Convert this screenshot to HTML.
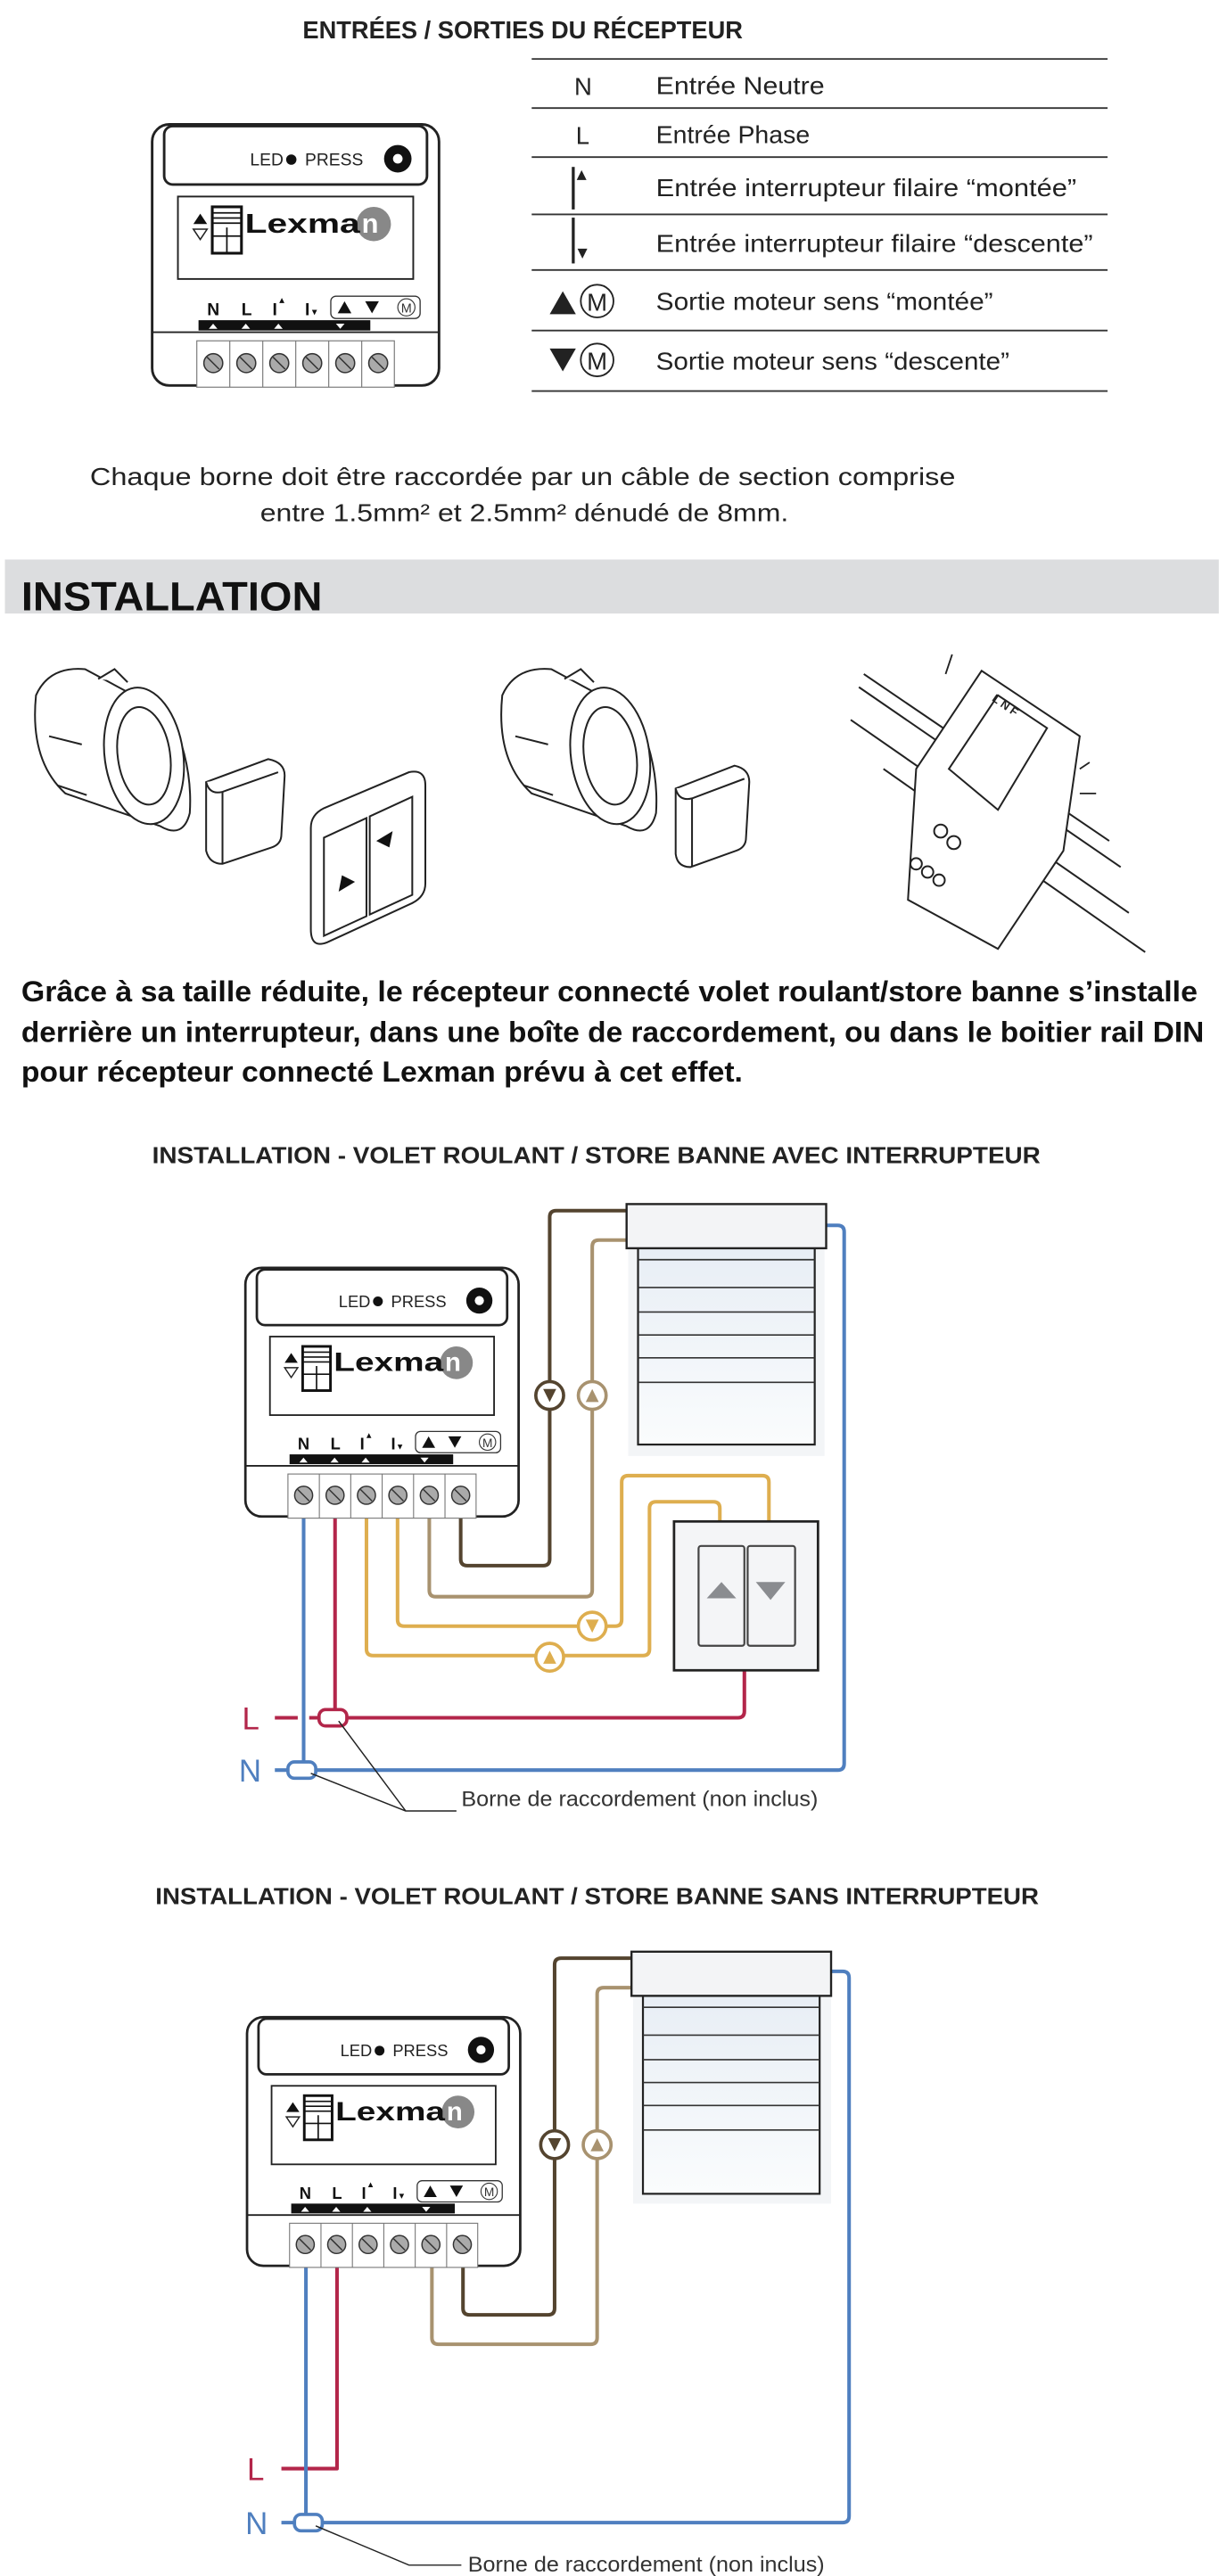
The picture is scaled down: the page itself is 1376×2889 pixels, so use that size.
<!DOCTYPE html>
<html><head><meta charset="utf-8"><style>
html,body{margin:0;padding:0;background:#fff;}
svg{display:block;font-family:"Liberation Sans",sans-serif;}
</style></head><body>
<svg width="1376" height="2889" viewBox="0 0 750 1574.6" xmlns="http://www.w3.org/2000/svg">
<rect width="750" height="1575" fill="#fff"/>

<!-- ===== TOP SECTION ===== -->
<text x="185" y="23.5" font-size="15" font-weight="bold" fill="#222" textLength="269" lengthAdjust="spacingAndGlyphs">ENTRÉES / SORTIES DU RÉCEPTEUR</text>

<g stroke="#333" stroke-width="1">
<line x1="325" y1="36" x2="677" y2="36"/><line x1="325" y1="66" x2="677" y2="66"/>
<line x1="325" y1="96" x2="677" y2="96"/><line x1="325" y1="131" x2="677" y2="131"/>
<line x1="325" y1="165" x2="677" y2="165"/><line x1="325" y1="202" x2="677" y2="202"/>
<line x1="325" y1="239" x2="677" y2="239"/>
</g>
<g font-size="15" fill="#222">
<text x="351" y="58">N</text><text x="352" y="88">L</text>
<text x="401" y="57.5" textLength="103" lengthAdjust="spacingAndGlyphs">Entrée Neutre</text>
<text x="401" y="87.5" textLength="94" lengthAdjust="spacingAndGlyphs">Entrée Phase</text>
<text x="401" y="120" textLength="257" lengthAdjust="spacingAndGlyphs">Entrée interrupteur filaire “montée”</text>
<text x="401" y="154" textLength="267" lengthAdjust="spacingAndGlyphs">Entrée interrupteur filaire “descente”</text>
<text x="401" y="189.5" textLength="206" lengthAdjust="spacingAndGlyphs">Sortie moteur sens “montée”</text>
<text x="401" y="226" textLength="216" lengthAdjust="spacingAndGlyphs">Sortie moteur sens “descente”</text>
</g>
<rect x="349.5" y="102" width="1.8" height="26" fill="#222"/><path d="M352.5 110 l3 -6 l3 6z" fill="#222"/>
<rect x="349.5" y="133" width="1.8" height="28" fill="#222"/><path d="M353 152 l3 6 l3 -6z" fill="#222"/>
<path d="M336 192 l8 -14 l8 14z" fill="#222"/><circle cx="365" cy="184" r="10" fill="none" stroke="#222" stroke-width="1"/><text x="365" y="190" font-size="15" text-anchor="middle" fill="#222">M</text>
<path d="M336 213 l8 14 l8 -14z" fill="#222"/><circle cx="365" cy="220" r="10" fill="none" stroke="#222" stroke-width="1"/><text x="365" y="226" font-size="15" text-anchor="middle" fill="#222">M</text>

<!-- top device -->
<g transform="translate(93,76) scale(1.05)">
<rect x="0" y="0" width="167" height="152" rx="10" fill="#fff" stroke="#222" stroke-width="1.5"/>
<rect x="7" y="1" width="153" height="34" rx="5" fill="#fff" stroke="#222" stroke-width="1.5"/>
<text x="57" y="24" font-size="10" fill="#222">LED</text><circle cx="81" cy="20.5" r="3" fill="#111"/>
<text x="89" y="24" font-size="10" fill="#222">PRESS</text>
<circle cx="143" cy="20" r="8" fill="#111"/><circle cx="143" cy="20" r="2.8" fill="#fff"/>
<rect x="15" y="42" width="137" height="48" fill="none" stroke="#222" stroke-width="1"/>
<path d="M24 58 l4 -6 l4 6z" fill="#111"/><path d="M24 61 l4 6 l4 -6z" fill="none" stroke="#222" stroke-width="0.8"/>
<rect x="35" y="48" width="17" height="27" fill="none" stroke="#111" stroke-width="1.6"/>
<path d="M35 51.5h17M35 54.5h17M35 57.5h17M35 65h17M43.5 60v15" stroke="#111" stroke-width="0.9"/>
<circle cx="129" cy="58" r="10" fill="#888"/>
<text x="54" y="63" font-size="16" font-weight="bold" fill="#111" textLength="67" lengthAdjust="spacingAndGlyphs">Lexma</text>
<text x="122" y="63" font-size="16" font-weight="bold" fill="#fff">n</text>
<g font-size="10" font-weight="bold" fill="#111">
<text x="32" y="111">N</text><text x="52" y="111">L</text><text x="70" y="111">I</text><text x="89" y="111">I</text>
</g>
<path d="M74 104 l1.5 -3 l1.5 3z M93 108 l1.5 3 l1.5 -3z" fill="#111"/>
<rect x="104" y="100" width="52" height="13" rx="3" fill="#fff" stroke="#333" stroke-width="0.7"/>
<path d="M108 110 l4 -7 l4 7z M124 103 l4 7 l4 -7z" fill="#111"/>
<circle cx="148" cy="106.5" r="5" fill="none" stroke="#333" stroke-width="0.6"/><text x="148" y="109.5" font-size="7.5" text-anchor="middle" fill="#333">M</text>
<rect x="27" y="114" width="100" height="6" fill="#111"/>
<path d="M33 119 l2.5 -3 l2.5 3z M52 119 l2.5 -3 l2.5 3z M71 119 l2.5 -3 l2.5 3z M107 116 l2.5 3 l2.5 -3z" fill="#fff"/>
<line x1="0" y1="121" x2="167" y2="121" stroke="#222" stroke-width="1"/>
<rect x="26" y="126" width="115" height="27" fill="#fff" stroke="#777" stroke-width="0.6"/>
<g stroke="#777" stroke-width="0.6"><line x1="45.2" y1="126" x2="45.2" y2="153"/><line x1="64.4" y1="126" x2="64.4" y2="153"/><line x1="83.6" y1="126" x2="83.6" y2="153"/><line x1="102.8" y1="126" x2="102.8" y2="153"/><line x1="122" y1="126" x2="122" y2="153"/></g>
<g fill="#aaa" stroke="#333" stroke-width="0.8"><circle cx="35.6" cy="139" r="5.5"/><circle cx="54.8" cy="139" r="5.5"/><circle cx="74" cy="139" r="5.5"/><circle cx="93.2" cy="139" r="5.5"/><circle cx="112.4" cy="139" r="5.5"/><circle cx="131.6" cy="139" r="5.5"/></g>
<g stroke="#333" stroke-width="0.8"><path d="M32 135.5l7 7M51.2 135.5l7 7M70.4 135.5l7 7M89.6 135.5l7 7M108.8 135.5l7 7M128 135.5l7 7"/></g>
</g>

<text x="55" y="296.5" font-size="15" fill="#222" textLength="529" lengthAdjust="spacingAndGlyphs">Chaque borne doit être raccordée par un câble de section comprise</text>
<text x="159" y="318.5" font-size="15" fill="#222" textLength="323" lengthAdjust="spacingAndGlyphs">entre 1.5mm² et 2.5mm² dénudé de 8mm.</text>

<rect x="3" y="342" width="742" height="33" fill="#dcdddf"/>
<text x="13" y="373" font-size="25" font-weight="bold" fill="#111" textLength="184" lengthAdjust="spacingAndGlyphs">INSTALLATION</text>

<!-- ===== ILLUSTRATIONS ===== -->
<g fill="#fff" stroke="#222" stroke-width="1.1">
<!-- box 1 -->
<path d="M22 425 q8 -18 30 -16 l52 28 q14 30 12 60 q-4 16 -18 8 l-58 -20 q-22 -20 -18 -60z"/>
<ellipse cx="88" cy="462" rx="24" ry="42" transform="rotate(-8 88 462)"/>
<ellipse cx="88" cy="462" rx="16" ry="30" transform="rotate(-8 88 462)"/>
<path d="M60 415 l10 -6 l8 8 M30 450 l20 5 M35 480 l18 6"/>
<!-- module 1 -->
<path d="M126 478 l38 -14 q10 2 10 10 l-2 36 q0 6 -6 8 l-30 10 q-8 0 -10 -8z"/>
<path d="M126 478 q2 8 10 6 l34 -12"/><path d="M136 484 l0 44"/>
<!-- switch -->
<path d="M190 506 q0 -8 8 -12 l52 -22 q10 -2 10 8 l0 60 q0 8 -8 12 l-52 24 q-10 4 -10 -8z"/>
<path d="M198 512 l26 -12 l0 60 l-26 12z M226 499 l26 -12 l0 60 l-26 12z"/>
</g>
<path d="M207 545 l10 -6 l-8 -4z M240 508 l-10 6 l8 4z" fill="#111"/>
<g fill="#fff" stroke="#222" stroke-width="1.1">
<!-- box 2 -->
<path d="M307 425 q8 -18 30 -16 l52 28 q14 30 12 60 q-4 16 -18 8 l-58 -20 q-22 -20 -18 -60z"/>
<ellipse cx="373" cy="462" rx="24" ry="42" transform="rotate(-8 373 462)"/>
<ellipse cx="373" cy="462" rx="16" ry="30" transform="rotate(-8 373 462)"/>
<path d="M345 415 l10 -6 l8 8 M315 450 l20 5 M320 480 l18 6"/>
<!-- module 2 -->
<path d="M413 482 l36 -14 q9 2 9 10 l-2 34 q0 6 -6 8 l-28 10 q-8 0 -9 -8z"/>
<path d="M413 482 q2 8 10 6 l32 -12"/><path d="M423 488 l0 42"/>
<!-- DIN -->
<path d="M525 420 l160 110 M520 440 l170 118 M528 412 l150 102 M540 470 l160 112" fill="none"/>
<path d="M560 470 l40 -60 l60 40 l-10 70 l-40 60 l-55 -30z"/>
<path d="M580 470 l30 -45 l30 20 l-30 50z"/>
<circle cx="575" cy="508" r="4"/><circle cx="583" cy="515" r="4"/><circle cx="560" cy="528" r="3.5"/><circle cx="567" cy="533" r="3.5"/><circle cx="574" cy="538" r="3.5"/>
</g>
<text x="606" y="428" font-size="7" font-weight="bold" fill="#222" transform="rotate(35 606 428)">L N F</text>
<path d="M582 400 l-4 12 M660 470 l6 -4 M660 485 l10 0" stroke="#222" stroke-width="1"/>

<g font-size="17.5" font-weight="bold" fill="#111">
<text x="13" y="612" textLength="719" lengthAdjust="spacingAndGlyphs">Grâce à sa taille réduite, le récepteur connecté volet roulant/store banne s’installe</text>
<text x="13" y="637" textLength="723" lengthAdjust="spacingAndGlyphs">derrière un interrupteur, dans une boîte de raccordement, ou dans le boitier rail DIN</text>
<text x="13" y="661" textLength="441" lengthAdjust="spacingAndGlyphs">pour récepteur connecté Lexman prévu à cet effet.</text>
</g>

<!-- ===== DIAGRAM 1 ===== -->
<text x="93" y="711" font-size="14" font-weight="bold" fill="#222" textLength="543" lengthAdjust="spacingAndGlyphs">INSTALLATION - VOLET ROULANT / STORE BANNE AVEC INTERRUPTEUR</text>

<g fill="none" stroke-width="2.2" stroke-linejoin="round">
<path d="M281.6 927 V953 q0 4 4 4 H332 q4 0 4 -4 V744 q0 -4 4 -4 H383" stroke="#54442f"/>
<path d="M262.4 927 V972 q0 4 4 4 H358 q4 0 4 -4 V762 q0 -4 4 -4 H383" stroke="#a8926f"/>
<path d="M243 927 V990 q0 4 4 4 H376 q4 0 4 -4 V906 q0 -4 4 -4 H466 q4 0 4 4 V930" stroke="#deae4f"/>
<path d="M224 927 V1008 q0 4 4 4 H393 q4 0 4 -4 V922 q0 -4 4 -4 H436 q4 0 4 4 V930" stroke="#deae4f"/>
<path d="M204.8 927 V1050 H451 q4 0 4 -4 V1021" stroke="#b3264a"/>
<path d="M168 1050 H182 M189 1050 H197" stroke="#b3264a"/>
<path d="M185.6 927 V1082 H512 q4 0 4 -4 V753 q0 -4 -4 -4 H505" stroke="#4f7fbf"/>
<path d="M168 1082 H180" stroke="#4f7fbf"/>
</g>
<rect x="195" y="1045" width="17" height="10" rx="4" fill="#fff" stroke="#b3264a" stroke-width="2"/>
<rect x="176" y="1077" width="17" height="10" rx="4" fill="#fff" stroke="#4f7fbf" stroke-width="2"/>
<path d="M207 1052 L248 1107 L279 1107 M190 1084 L248 1107" fill="none" stroke="#222" stroke-width="0.8"/>
<text x="148" y="1057" font-size="19" fill="#b3264a">L</text>
<text x="146" y="1089" font-size="19" fill="#4f7fbf">N</text>
<text x="282" y="1104" font-size="13" fill="#333" textLength="218" lengthAdjust="spacingAndGlyphs">Borne de raccordement (non inclus)</text>

<!-- markers d1 -->
<circle cx="336" cy="853" r="8.5" fill="#fff" stroke="#54442f" stroke-width="2"/><path d="M332 849 l4 8 l4 -8z" fill="#54442f"/>
<circle cx="362" cy="853" r="8.5" fill="#fff" stroke="#a8926f" stroke-width="2"/><path d="M358 857 l4 -8 l4 8z" fill="#a8926f"/>
<circle cx="362" cy="994" r="8.5" fill="#fff" stroke="#deae4f" stroke-width="2"/><path d="M358 990 l4 8 l4 -8z" fill="#deae4f"/>
<circle cx="336" cy="1013" r="8.5" fill="#fff" stroke="#deae4f" stroke-width="2"/><path d="M332 1017 l4 -8 l4 8z" fill="#deae4f"/>

<!-- shutter d1 -->
<defs><linearGradient id="sg" x1="0" y1="0" x2="0" y2="1"><stop offset="0" stop-color="#e8eef5"/><stop offset="1" stop-color="#fafcfd"/></linearGradient></defs>
<rect x="384" y="760" width="120" height="130" fill="#f3f5f7"/>
<rect x="390" y="763" width="108" height="120" fill="url(#sg)" stroke="#222" stroke-width="1.2"/>
<path d="M390 770H498M390 787H498M390 802H498M390 816H498M390 830H498M390 845H498" stroke="#333" stroke-width="0.9"/>
<rect x="383" y="736" width="122" height="27" fill="#f3f4f6" stroke="#222" stroke-width="1.3"/>

<!-- switch d1 -->
<rect x="412" y="930" width="88" height="91" fill="#f4f5f7" stroke="#222" stroke-width="1.5"/>
<rect x="427" y="945" width="28" height="61" rx="1.5" fill="#f4f5f7" stroke="#444" stroke-width="1.2"/>
<rect x="457" y="945" width="29" height="61" rx="1.5" fill="#f4f5f7" stroke="#444" stroke-width="1.2"/>
<path d="M432 977 l9 -10 l9 10z" fill="#8a8c90"/><path d="M462 967 l9 11 l9 -11z" fill="#8a8c90"/>

<!-- device d1 -->
<g transform="translate(150,775)">
<rect x="0" y="0" width="167" height="152" rx="10" fill="#fff" stroke="#222" stroke-width="1.5"/>
<rect x="7" y="1" width="153" height="34" rx="5" fill="#fff" stroke="#222" stroke-width="1.5"/>
<text x="57" y="24" font-size="10" fill="#222">LED</text><circle cx="81" cy="20.5" r="3" fill="#111"/>
<text x="89" y="24" font-size="10" fill="#222">PRESS</text>
<circle cx="143" cy="20" r="8" fill="#111"/><circle cx="143" cy="20" r="2.8" fill="#fff"/>
<rect x="15" y="42" width="137" height="48" fill="none" stroke="#222" stroke-width="1"/>
<path d="M24 58 l4 -6 l4 6z" fill="#111"/><path d="M24 61 l4 6 l4 -6z" fill="none" stroke="#222" stroke-width="0.8"/>
<rect x="35" y="48" width="17" height="27" fill="none" stroke="#111" stroke-width="1.6"/>
<path d="M35 51.5h17M35 54.5h17M35 57.5h17M35 65h17M43.5 60v15" stroke="#111" stroke-width="0.9"/>
<circle cx="129" cy="58" r="10" fill="#888"/>
<text x="54" y="63" font-size="16" font-weight="bold" fill="#111" textLength="67" lengthAdjust="spacingAndGlyphs">Lexma</text>
<text x="122" y="63" font-size="16" font-weight="bold" fill="#fff">n</text>
<g font-size="10" font-weight="bold" fill="#111">
<text x="32" y="111">N</text><text x="52" y="111">L</text><text x="70" y="111">I</text><text x="89" y="111">I</text>
</g>
<path d="M74 104 l1.5 -3 l1.5 3z M93 108 l1.5 3 l1.5 -3z" fill="#111"/>
<rect x="104" y="100" width="52" height="13" rx="3" fill="#fff" stroke="#333" stroke-width="0.7"/>
<path d="M108 110 l4 -7 l4 7z M124 103 l4 7 l4 -7z" fill="#111"/>
<circle cx="148" cy="106.5" r="5" fill="none" stroke="#333" stroke-width="0.6"/><text x="148" y="109.5" font-size="7.5" text-anchor="middle" fill="#333">M</text>
<rect x="27" y="114" width="100" height="6" fill="#111"/>
<path d="M33 119 l2.5 -3 l2.5 3z M52 119 l2.5 -3 l2.5 3z M71 119 l2.5 -3 l2.5 3z M107 116 l2.5 3 l2.5 -3z" fill="#fff"/>
<line x1="0" y1="121" x2="167" y2="121" stroke="#222" stroke-width="1"/>
<rect x="26" y="126" width="115" height="27" fill="#fff" stroke="#777" stroke-width="0.6"/>
<g stroke="#777" stroke-width="0.6"><line x1="45.2" y1="126" x2="45.2" y2="153"/><line x1="64.4" y1="126" x2="64.4" y2="153"/><line x1="83.6" y1="126" x2="83.6" y2="153"/><line x1="102.8" y1="126" x2="102.8" y2="153"/><line x1="122" y1="126" x2="122" y2="153"/></g>
<g fill="#aaa" stroke="#333" stroke-width="0.8"><circle cx="35.6" cy="139" r="5.5"/><circle cx="54.8" cy="139" r="5.5"/><circle cx="74" cy="139" r="5.5"/><circle cx="93.2" cy="139" r="5.5"/><circle cx="112.4" cy="139" r="5.5"/><circle cx="131.6" cy="139" r="5.5"/></g>
<g stroke="#333" stroke-width="0.8"><path d="M32 135.5l7 7M51.2 135.5l7 7M70.4 135.5l7 7M89.6 135.5l7 7M108.8 135.5l7 7M128 135.5l7 7"/></g>
</g>

<!-- ===== DIAGRAM 2 ===== -->
<text x="95" y="1164" font-size="14" font-weight="bold" fill="#222" textLength="540" lengthAdjust="spacingAndGlyphs">INSTALLATION - VOLET ROULANT / STORE BANNE SANS INTERRUPTEUR</text>

<g fill="none" stroke-width="2.2" stroke-linejoin="round">
<path d="M283 1385 V1411 q0 4 4 4 H335 q4 0 4 -4 V1201 q0 -4 4 -4 H386" stroke="#54442f"/>
<path d="M264 1385 V1429 q0 4 4 4 H361 q4 0 4 -4 V1219 q0 -4 4 -4 H386" stroke="#a8926f"/>
<path d="M206 1385 V1509 H172" stroke="#b3264a"/>
<path d="M187 1385 V1542 H515 q4 0 4 -4 V1209 q0 -4 -4 -4 H508" stroke="#4f7fbf"/>
<path d="M172 1542 H182" stroke="#4f7fbf"/>
</g>
<rect x="180" y="1537" width="17" height="10" rx="4" fill="#fff" stroke="#4f7fbf" stroke-width="2"/>
<path d="M193 1544 L250 1568 L282 1568" fill="none" stroke="#222" stroke-width="0.8"/>
<text x="151" y="1516" font-size="19" fill="#b3264a">L</text>
<text x="150" y="1549" font-size="19" fill="#4f7fbf">N</text>
<text x="286" y="1572" font-size="13" fill="#333" textLength="218" lengthAdjust="spacingAndGlyphs">Borne de raccordement (non inclus)</text>

<circle cx="339" cy="1311" r="8.5" fill="#fff" stroke="#54442f" stroke-width="2"/><path d="M335 1307 l4 8 l4 -8z" fill="#54442f"/>
<circle cx="365" cy="1311" r="8.5" fill="#fff" stroke="#a8926f" stroke-width="2"/><path d="M361 1315 l4 -8 l4 8z" fill="#a8926f"/>

<rect x="387" y="1217" width="121" height="130" fill="#f3f5f7"/>
<rect x="393" y="1220" width="108" height="121" fill="url(#sg)" stroke="#222" stroke-width="1.2"/>
<path d="M393 1227H501M393 1244H501M393 1259H501M393 1273H501M393 1287H501M393 1302H501" stroke="#333" stroke-width="0.9"/>
<rect x="386" y="1193" width="122" height="27" fill="#f3f4f6" stroke="#222" stroke-width="1.3"/>

<g transform="translate(151,1233)">
<rect x="0" y="0" width="167" height="152" rx="10" fill="#fff" stroke="#222" stroke-width="1.5"/>
<rect x="7" y="1" width="153" height="34" rx="5" fill="#fff" stroke="#222" stroke-width="1.5"/>
<text x="57" y="24" font-size="10" fill="#222">LED</text><circle cx="81" cy="20.5" r="3" fill="#111"/>
<text x="89" y="24" font-size="10" fill="#222">PRESS</text>
<circle cx="143" cy="20" r="8" fill="#111"/><circle cx="143" cy="20" r="2.8" fill="#fff"/>
<rect x="15" y="42" width="137" height="48" fill="none" stroke="#222" stroke-width="1"/>
<path d="M24 58 l4 -6 l4 6z" fill="#111"/><path d="M24 61 l4 6 l4 -6z" fill="none" stroke="#222" stroke-width="0.8"/>
<rect x="35" y="48" width="17" height="27" fill="none" stroke="#111" stroke-width="1.6"/>
<path d="M35 51.5h17M35 54.5h17M35 57.5h17M35 65h17M43.5 60v15" stroke="#111" stroke-width="0.9"/>
<circle cx="129" cy="58" r="10" fill="#888"/>
<text x="54" y="63" font-size="16" font-weight="bold" fill="#111" textLength="67" lengthAdjust="spacingAndGlyphs">Lexma</text>
<text x="122" y="63" font-size="16" font-weight="bold" fill="#fff">n</text>
<g font-size="10" font-weight="bold" fill="#111">
<text x="32" y="111">N</text><text x="52" y="111">L</text><text x="70" y="111">I</text><text x="89" y="111">I</text>
</g>
<path d="M74 104 l1.5 -3 l1.5 3z M93 108 l1.5 3 l1.5 -3z" fill="#111"/>
<rect x="104" y="100" width="52" height="13" rx="3" fill="#fff" stroke="#333" stroke-width="0.7"/>
<path d="M108 110 l4 -7 l4 7z M124 103 l4 7 l4 -7z" fill="#111"/>
<circle cx="148" cy="106.5" r="5" fill="none" stroke="#333" stroke-width="0.6"/><text x="148" y="109.5" font-size="7.5" text-anchor="middle" fill="#333">M</text>
<rect x="27" y="114" width="100" height="6" fill="#111"/>
<path d="M33 119 l2.5 -3 l2.5 3z M52 119 l2.5 -3 l2.5 3z M71 119 l2.5 -3 l2.5 3z M107 116 l2.5 3 l2.5 -3z" fill="#fff"/>
<line x1="0" y1="121" x2="167" y2="121" stroke="#222" stroke-width="1"/>
<rect x="26" y="126" width="115" height="27" fill="#fff" stroke="#777" stroke-width="0.6"/>
<g stroke="#777" stroke-width="0.6"><line x1="45.2" y1="126" x2="45.2" y2="153"/><line x1="64.4" y1="126" x2="64.4" y2="153"/><line x1="83.6" y1="126" x2="83.6" y2="153"/><line x1="102.8" y1="126" x2="102.8" y2="153"/><line x1="122" y1="126" x2="122" y2="153"/></g>
<g fill="#aaa" stroke="#333" stroke-width="0.8"><circle cx="35.6" cy="139" r="5.5"/><circle cx="54.8" cy="139" r="5.5"/><circle cx="74" cy="139" r="5.5"/><circle cx="93.2" cy="139" r="5.5"/><circle cx="112.4" cy="139" r="5.5"/><circle cx="131.6" cy="139" r="5.5"/></g>
<g stroke="#333" stroke-width="0.8"><path d="M32 135.5l7 7M51.2 135.5l7 7M70.4 135.5l7 7M89.6 135.5l7 7M108.8 135.5l7 7M128 135.5l7 7"/></g>
</g>
</svg>
</body></html>
